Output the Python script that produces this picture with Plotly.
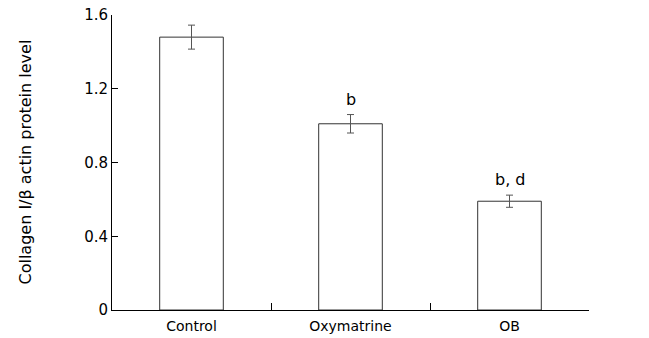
import plotly.graph_objects as go

categories = ["Control", "Oxymatrine", "OB"]
means = [1.48, 1.01, 0.59]
errors = [0.065, 0.05, 0.033]
labels = ["", "b", "b, d"]
y_ticks = [0, 0.4, 0.8, 1.2, 1.6]
y_ticktext = ["0", "0.4", "0.8", "1.2", "1.6"]
y_title = "Collagen I/β actin protein level"

xs = list(range(len(categories)))
font = "DejaVu Sans"

fig = go.Figure()
fig.add_trace(go.Bar(
    x=xs, y=means, width=0.4,
    marker=dict(color="white", line=dict(color="#333333", width=1)),
    error_y=dict(type="data", array=errors, visible=True,
                 color="#555555", thickness=1, width=3.5),
    showlegend=False,
))
for x, m, e, t in zip(xs, means, errors, labels):
    if t:
        fig.add_annotation(x=x, y=m + e, text=t, showarrow=False,
                           yanchor="bottom", yshift=4,
                           font=dict(family=font, size=16, color="black"))

fig.add_annotation(xref="paper", yref="paper", x=0, y=0.5, xshift=-87,
                   text=y_title, textangle=-90, showarrow=False,
                   xanchor="center", yanchor="middle",
                   font=dict(family=font, size=16, color="black"))

fig.add_trace(go.Scatter(x=[0.5], y=[0], xaxis="x2", mode="markers",
                         marker=dict(opacity=0), showlegend=False, hoverinfo="skip"))

fig.update_layout(
    width=649, height=338,
    margin=dict(l=112, r=60, t=15, b=28),
    plot_bgcolor="white", paper_bgcolor="white",
    xaxis=dict(range=[-0.5, 2.5], tickvals=xs, ticktext=categories,
               ticks="", showline=True, linecolor="black", linewidth=1,
               showgrid=False, zeroline=False, automargin=False,
               ticklabelstandoff=3,
               tickfont=dict(family=font, size=14, color="black")),
    xaxis2=dict(range=[-0.5, 2.5], overlaying="x", anchor="y", side="bottom",
                tickvals=[0.5, 1.5, 2.5], ticks="inside", ticklen=7,
                tickcolor="black", showticklabels=False, showgrid=False,
                zeroline=False, showline=False, automargin=False),
    yaxis=dict(range=[0, 1.6], tickvals=y_ticks, ticktext=y_ticktext,
               ticks="inside", ticklen=6, tickcolor="black",
               showline=True, linecolor="black", linewidth=1,
               showgrid=False, zeroline=False, automargin=False,
               tickfont=dict(family=font, size=15, color="black")),
)

fig.write_html("out.html",
               config={"displayModeBar": False},
               post_script="document.body.style.margin='0';document.body.style.overflow='hidden';")
